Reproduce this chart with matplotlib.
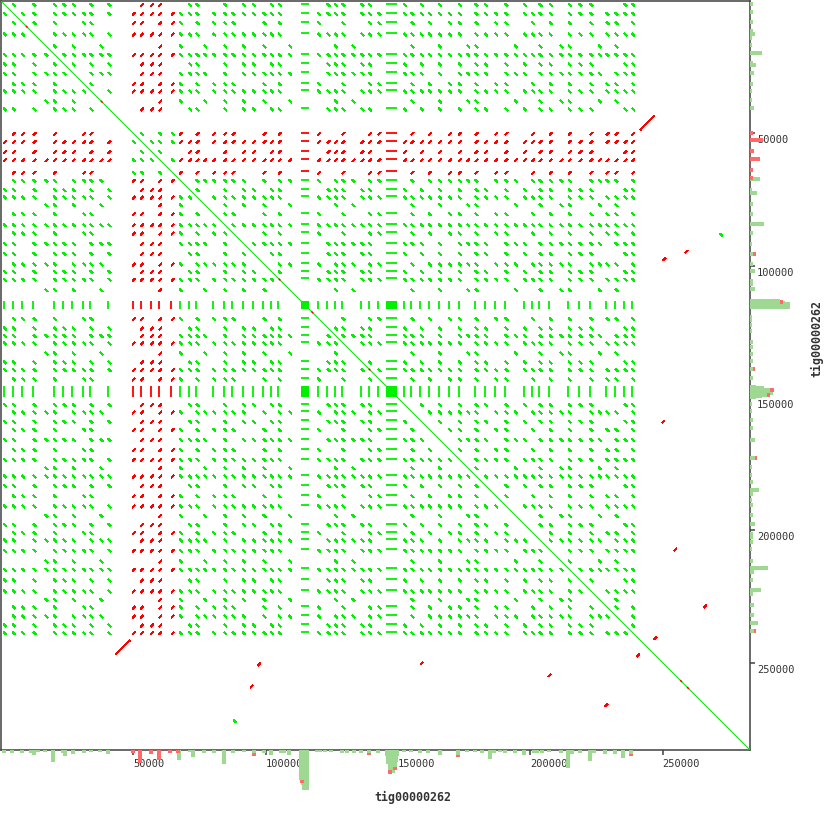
import matplotlib
matplotlib.use('Agg')
import matplotlib.pyplot as plt
from matplotlib.collections import LineCollection
from matplotlib.patches import Rectangle
import matplotlib.transforms as mtransforms

# ---------------- data ----------------
seq_name = "tig00000262"
seq_len = 283000

# repeat units along the contig (self alignment -> same list on both axes)
unit_pos = [1000, 4400, 7900, 12200, 16700, 19900, 23500, 27000, 31000, 33700,
            37500, 40500, 49700, 52800, 56600, 59700, 64400, 67500, 71000, 73800,
            76700, 80100, 84300, 87400, 91300, 95100, 99100, 101900, 104800, 108800,
            119700, 123300, 126100, 128900, 132700, 136100, 139000, 142500, 152200, 155000,
            158500, 161600, 165400, 169200, 172900, 176100, 179200, 182800, 186700, 190500,
            194100, 197500, 200600, 203400, 207200, 211300, 214400, 218500, 222600, 225800,
            228700, 232100, 235500, 238400]
unit_strand = ['+'] * 12 + ['-'] * 5 + ['+'] * 47
unit_motif = ['a', 'ab', 'b', 'ab', 'c', 'abc', 'a', 'ac', 'b', 'ab',
              'c', 'a', 'b', 'ab', 'a', 'abc', 'b', 'bc', 'a', 'ab',
              'c', 'b', 'abc', 'b', 'ac', 'a', 'bc', 'a', 'ab', 'c',
              'b', 'a', 'ac', 'ab', 'c', 'a', 'ab', 'b', 'a', 'bc',
              'a', 'b', 'ac', 'b', 'ab', 'c', 'abc', 'a', 'b', 'ab',
              'c', 'a', 'b', 'ac', 'ab', 'c', 'abc', 'a', 'ab', 'c',
              'b', 'bc', 'a', 'ab']

# tandem arrays (short-period blocks)
block_start = [113200, 145600]
block_end = [116400, 149800]
block_motif = ['ab', 'ab']

# isolated hits outside the repeat region (mirrored as well)
off_x = [97000, 94300, 87900, 228300, 246800, 158500, 206800]
off_y = [250200, 258500, 271700, 265600, 240300, 249800, 254300]
off_strand = ['-', '-', '+', '-', '-', '-', '-']

# long inverted hit
rev_x = [43400, 48800]
rev_y = [246800, 241500]

# small inverted bits on the main diagonal
diag_rev_pos = [9400, 37700, 104900, 117300, 138900, 256600, 259200]

# coverage histogram (forward part, reverse part)
hist_pos = [1000, 4200, 7800, 11300, 12500, 13800, 16600, 19700, 23400, 24300,
            27100, 31200, 34000, 37500, 40300, 49700, 52400, 56600, 59700, 63900,
            66700, 67300, 71400, 72600, 76700, 80300, 84300, 87700, 91800, 95600,
            99400, 102100, 105900, 106900, 108900,
            113200, 113600, 114000, 114300, 114700, 115100, 115500, 115800,
            119500, 120700, 122600, 124500, 128900, 130800, 133300, 136100, 139000, 142500,
            145900, 146400, 146900, 147300, 147800, 148300, 148800, 149200, 149700,
            152200, 155000, 158200, 161200, 165800, 172700, 176100, 179200, 181800, 184600,
            186100, 188700, 190500, 194300, 197500, 201200, 202600, 204400, 206900, 211600,
            214400, 215700, 218600, 222600, 223900, 228300, 232100, 235200, 238200]
hist_fwd = [2.7, 2.7, 3.3, 3.3, 5, 2, 2, 12, 3.3, 6,
            4.3, 3.3, 2, 2, 4.3, 0, 0, 0, 0, 0,
            0, 10, 2, 6.7, 2.7, 2.7, 14.3, 2.7, 2, 3,
            3.3, 5.3, 2.7, 2.7, 5.3,
            30, 30, 35, 40, 30, 36, 40, 38,
            2, 2, 2, 2, 3.3, 2.7, 2.7, 2.7, 3, 2.7,
            6, 14, 20, 22, 18, 23, 17, 12, 6,
            2.3, 1.7, 3, 3, 4.7, 4.7, 2.3, 2.3, 3, 9,
            3, 2.3, 3, 3, 4.7, 3, 3, 3, 2, 3,
            18, 3.7, 3, 11.3, 3, 3.7, 3.7, 8, 4]
hist_rev = [0, 0, 0, 0, 0, 0, 0, 0, 0, 0,
            0, 0, 0, 0, 0, 2.7, 12.7, 4.3, 10, 3.3,
            3.3, 0, 0, 0, 0, 0, 0, 0, 0, 3,
            0, 0, 0, 0, 0,
            0, 3, 0, 0, 0, 0, 0, 0,
            0, 0, 0, 0, 0, 0, 0, 0, 2.3, 0,
            0, 0, 4, 0, 0, 0, 3, 0, 0,
            0, 0, 0, 0, 0, 2.3, 0, 0, 0, 0,
            0, 0, 0, 0, 0, 0, 0, 0, 0, 0,
            0, 0, 0, 0, 0, 0, 0, 0, 2.3]

tick_vals = [50000, 100000, 150000, 200000, 250000]
tick_labels = ['50000', '100000', '150000', '200000', '250000']

# ---------------- style ----------------
FWD = '#00f000'
REV = '#ff0000'
H_FWD = '#9ed893'
H_REV = '#ff6b6b'
AXC = '#404040'
dot_len = 950
W, H = 830, 830

fig = plt.figure(figsize=(8.3, 8.3), dpi=100)
ax = fig.add_axes([1 / W, 80 / H, 749 / W, 749 / H])
ax.set_xlim(0, seq_len)
ax.set_ylim(seq_len, 0)

# ---------------- repeat grid ----------------
segs_g, segs_r = [], []
for xi, si, mi in zip(unit_pos, unit_strand, unit_motif):
    for yj, sj, mj in zip(unit_pos, unit_strand, unit_motif):
        if xi == yj or not (set(mi) & set(mj)):
            continue
        if si == sj:
            segs_g.append([(xi, yj), (xi + dot_len, yj + dot_len)])
        else:
            segs_r.append([(xi, yj + dot_len), (xi + dot_len, yj)])

# blocks vs units
bar_g, bar_r = [], []
for bs, be, bm in zip(block_start, block_end, block_motif):
    for p, s, m in zip(unit_pos, unit_strand, unit_motif):
        if not (set(bm) & set(m)):
            continue
        tgt = bar_g if s == '+' else bar_r
        tgt.append([(bs, p), (be, p)])
        tgt.append([(p, bs), (p, be)])

# off-grid hits with mirrors
for x, y, s in zip(off_x, off_y, off_strand):
    for a, b in ((x, y), (y, x)):
        if s == '+':
            segs_g.append([(a, b), (a + dot_len, b + dot_len)])
        else:
            segs_r.append([(a, b + dot_len), (a + dot_len, b)])

segs_r.append([(rev_x[0], rev_y[0]), (rev_x[1], rev_y[1])])
segs_r.append([(rev_y[0], rev_x[0]), (rev_y[1], rev_x[1])])

ax.add_collection(LineCollection(segs_g, colors=FWD, linewidths=0.72, antialiaseds=False, zorder=2))
ax.add_collection(LineCollection(segs_r, colors=REV, linewidths=0.72, antialiaseds=False, zorder=2))
ax.add_collection(LineCollection(bar_g, colors=FWD, linewidths=1.3, zorder=2))
ax.add_collection(LineCollection(bar_r, colors=REV, linewidths=1.3, zorder=2))

# block vs block
for bs1, be1 in zip(block_start, block_end):
    for bs2, be2 in zip(block_start, block_end):
        ax.add_patch(Rectangle((bs1, bs2), be1 - bs1, be2 - bs2, facecolor=FWD,
                               edgecolor='none', zorder=2))

# main diagonal
ax.plot([0, seq_len], [0, seq_len], color=FWD, lw=0.8, zorder=3)
ax.add_collection(LineCollection([[(p, p), (p + 700, p + 700)] for p in diag_rev_pos],
                                 colors=REV, linewidths=1.0, zorder=4))

# ---------------- axes styling ----------------
for sp in ax.spines.values():
    sp.set_color(AXC)
    sp.set_linewidth(1.1)
ax.xaxis.set_ticks_position('bottom')
ax.yaxis.set_ticks_position('right')
ax.set_xticks(tick_vals)
ax.set_yticks(tick_vals)
ax.tick_params(direction='out', length=3.6, width=1.1, color=AXC,
               labelbottom=False, labelright=False, labelleft=False)

tx = mtransforms.blended_transform_factory(ax.transData, ax.transAxes)
ty = mtransforms.blended_transform_factory(ax.transAxes, ax.transData)
for v, lab in zip(tick_vals, tick_labels):
    ax.text(v, 0, lab, transform=mtransforms.offset_copy(tx, fig, x=0, y=-14, units='dots'),
            ha='left', va='center', family='DejaVu Sans Mono', fontsize=7.5, color='#333333')
    ax.text(1, v, lab, transform=mtransforms.offset_copy(ty, fig, x=7, y=-7, units='dots'),
            ha='left', va='center', family='DejaVu Sans Mono', fontsize=7.5, color='#333333')

# ---------------- coverage histograms ----------------
tot = [f + r for f, r in zip(hist_fwd, hist_rev)]
rp = [p for p, r in zip(hist_pos, hist_rev) if r > 0]
rf = [f for f, r in zip(hist_fwd, hist_rev) if r > 0]
rt = [t for t, r in zip(tot, hist_rev) if r > 0]

axb = fig.add_axes([1 / W, 0, 749 / W, 80 / H], facecolor='none')
axb.set_xlim(0, seq_len)
axb.set_ylim(80, 0)
axb.axis('off')
axb.vlines(hist_pos, 0, hist_fwd, colors=H_FWD, linewidths=1.45, antialiaseds=False)
axb.vlines(rp, rf, rt, colors=H_REV, linewidths=1.45, antialiaseds=False)

axr = fig.add_axes([750 / W, 80 / H, 80 / W, 749 / H], facecolor='none')
axr.set_ylim(seq_len, 0)
axr.set_xlim(0, 80)
axr.axis('off')
axr.hlines(hist_pos, 0, hist_fwd, colors=H_FWD, linewidths=1.45, antialiaseds=False)
axr.hlines(rp, rf, rt, colors=H_REV, linewidths=1.45, antialiaseds=False)

# ---------------- axis titles ----------------
fig.text(413 / W, 1 - 797 / H, seq_name, ha='center', va='center',
         family='DejaVu Sans Mono', fontweight='bold', fontsize=8.4, color='#333333')
fig.text(817 / W, 1 - 338 / H, seq_name, ha='center', va='center', rotation=90,
         family='DejaVu Sans Mono', fontweight='bold', fontsize=8.4, color='#333333')

fig.savefig('out.png', dpi=100, facecolor='white')
